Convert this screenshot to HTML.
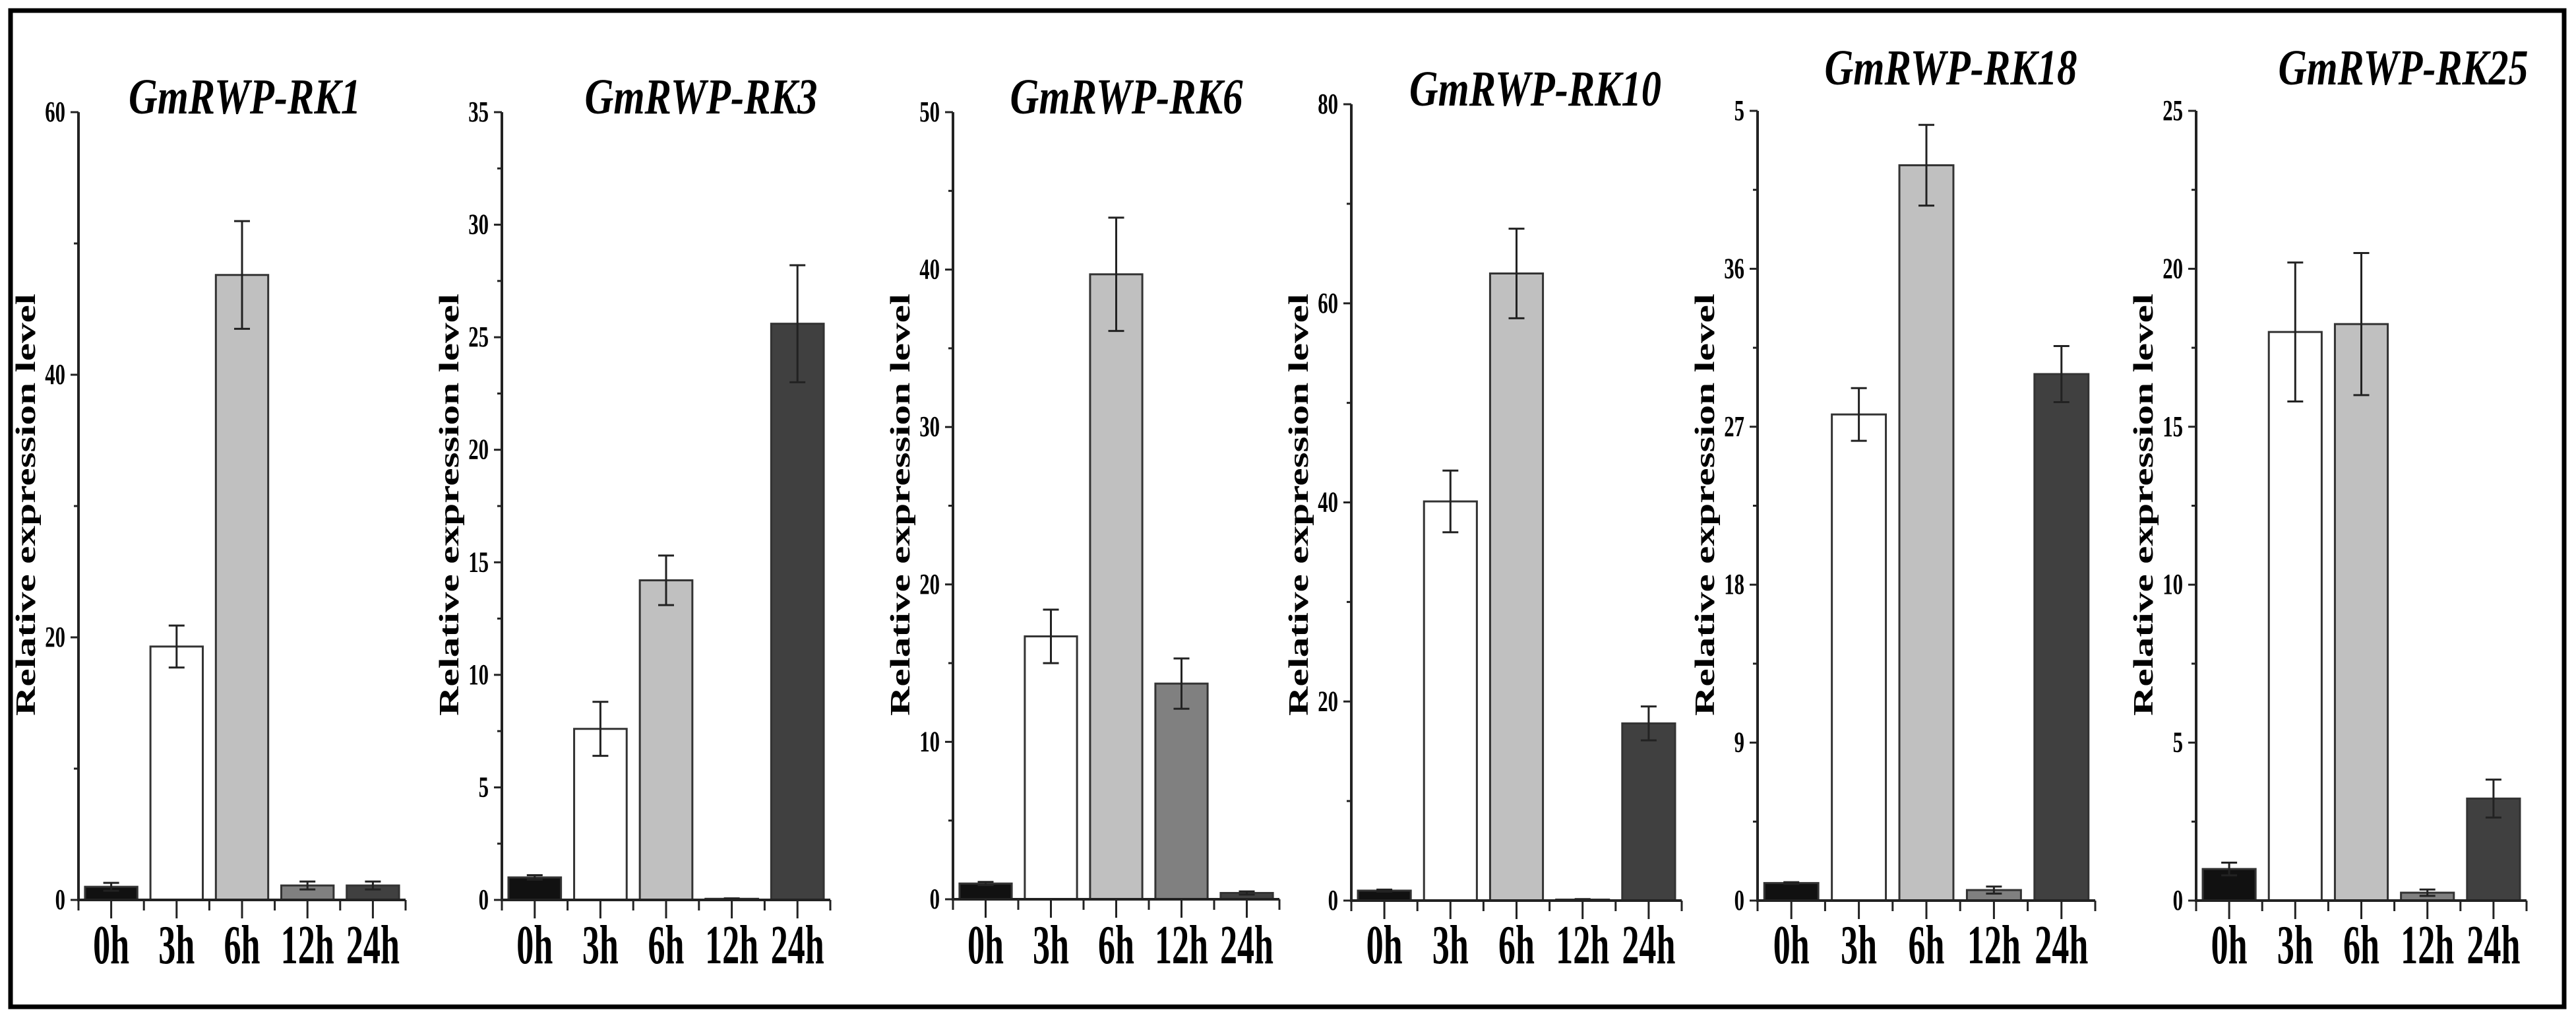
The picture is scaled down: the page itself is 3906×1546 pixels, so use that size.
<!DOCTYPE html>
<html><head><meta charset="utf-8"><style>
html,body{margin:0;padding:0;background:#fff;}
svg{display:block;}
text{font-family:"Liberation Serif",serif;fill:#000;}
</style></head><body>
<svg id="chart" width="3906" height="1546" viewBox="0 0 3906 1546" xmlns="http://www.w3.org/2000/svg">
<rect x="16" y="16" width="3872" height="1510" fill="#fff" stroke="#000" stroke-width="7"/>
</svg>
<script>
const categories = ["0h","3h","6h","12h","24h"];
const genes = ["GmRWP-RK1","GmRWP-RK3","GmRWP-RK6","GmRWP-RK10","GmRWP-RK18","GmRWP-RK25"];
const rk1Values = [1.0, 19.3, 47.6, 1.1, 1.1];
const rk1Errors = [0.3, 1.6, 4.1, 0.3, 0.3];
const rk3Values = [1.0, 7.6, 14.2, 0.05, 25.6];
const rk3Errors = [0.1, 1.2, 1.1, 0.02, 2.6];
const rk6Values = [1.0, 16.7, 39.7, 13.7, 0.4];
const rk6Errors = [0.1, 1.7, 3.6, 1.6, 0.1];
const rk10Values = [1.0, 40.1, 63.0, 0.1, 17.8];
const rk10Errors = [0.1, 3.1, 4.5, 0.05, 1.7];
const rk18Values = [1.0, 27.7, 41.9, 0.6, 30.0];
const rk18Errors = [0.05, 1.5, 2.3, 0.2, 1.6];
const rk25Values = [1.0, 18.0, 18.25, 0.25, 3.23];
const rk25Errors = [0.2, 2.2, 2.25, 0.1, 0.6];
const yMaxes = [60, 35, 50, 80, 45, 25];
const yTickStep = [20, 5, 10, 20, 9, 5];
const yTickLabels18 = ["0","9","18","27","36","5"];
const allValues = [rk1Values, rk3Values, rk6Values, rk10Values, rk18Values, rk25Values];
const allErrors = [rk1Errors, rk3Errors, rk6Errors, rk10Errors, rk18Errors, rk25Errors];

// layout (pixels)
const L = {
  axisX:[119,761,1445,2049,2665,3330],
  axisEnd:[615,1259,1940,2550,3177,3831],
  yTop:[170,170,170,158,168,168],
  yZero:[1364,1364,1363,1365,1365,1365],
  titleX:[371,1063,1708,2328,2958,3644],
  titleY:[172,172,172,160,128,128],
  titleW:[352,353,353,382,383,379]
};
const fills = ["#111111","#ffffff","#c0c0c0","#808080","#404040"];
const NS = "http://www.w3.org/2000/svg";
const svg = document.getElementById('chart');
function mk(tag, attrs, parent){
  const e = document.createElementNS(NS, tag);
  for (const k in attrs) e.setAttribute(k, attrs[k]);
  (parent||svg).appendChild(e);
  return e;
}
genes.forEach((gene, p) => {
  const g = mk('g', {});
  
  
  const x0 = L.axisX[p], x1 = L.axisEnd[p], yT = L.yTop[p], yZ = L.yZero[p], max = yMaxes[p];
  const yS = v => yZ - (v / max) * (yZ - yT);
  const band = (x1 - x0) / categories.length;
  const xC = i => x0 + band * (i + 0.5);
  const bw = band * 0.8;
  const t = mk('text', {x:L.titleX[p], y:L.titleY[p], 'text-anchor':'middle', 'font-size':76, 'font-weight':'bold', 'font-style':'italic', textLength:L.titleW[p], lengthAdjust:'spacingAndGlyphs'}, g);
  t.textContent = gene;
  
  
  const yt = mk('text', {x:0, y:0, transform:`translate(${x0-66},765) rotate(-90)`, 'text-anchor':'middle', 'font-size':42, 'font-weight':'bold', textLength:640, lengthAdjust:'spacingAndGlyphs'}, g);
  yt.textContent = "Relative expression level";
  
  
  allValues[p].forEach((v, i) => {
    const r = mk('rect', {x:xC(i)-bw/2, y:yS(v), width:bw, height:Math.max(yZ-yS(v),1), fill:fills[i], stroke:'#333', 'stroke-width':3}, g);
    
    
    const e = allErrors[p][i];
    const eg = mk('path', {d:`M${xC(i)},${yS(v+e)}V${yS(Math.max(v-e,0))}M${xC(i)-12},${yS(v+e)}h24M${xC(i)-12},${yS(Math.max(v-e,0))}h24`, stroke:'#222', 'stroke-width':3, fill:'none'}, g);
    
    
  });
  const ax = mk('path', {d:`M${x0},${yT}V${yZ}H${x1}`, stroke:'#222', 'stroke-width':4, fill:'none'}, g);
  
  
  const step = yTickStep[p];
  for (let k = 0; k * step <= max + 0.001; k++) {
    const v = k * step, y = yS(v);
    mk('line', {x1:x0-12, x2:x0, y1:y, y2:y, stroke:'#222', 'stroke-width':3}, g);
    if (v + step/2 < max) { const ym = yS(v + step/2); mk('line', {x1:x0-7, x2:x0, y1:ym, y2:ym, stroke:'#222', 'stroke-width':3}, g); }
    const lbl = p === 4 ? yTickLabels18[k] : String(v);
    const tl = mk('text', {x:0, y:0, transform:`translate(${x0-20},${y+14}) scale(0.7,1)`, 'text-anchor':'end', 'font-size':44, 'font-weight':'bold'}, g);
    tl.textContent = lbl;
    
    
  }
  for (let i = 0; i <= categories.length; i++) {
    const xb = x0 + band * i;
    mk('line', {x1:xb, x2:xb, y1:yZ, y2:yZ+16, stroke:'#222', 'stroke-width':3}, g);
  }
  categories.forEach((c, i) => {
    mk('line', {x1:xC(i), x2:xC(i), y1:yZ, y2:yZ+28, stroke:'#222', 'stroke-width':3}, g);
    const xl = mk('text', {x:0, y:0, transform:`translate(${xC(i)},1460) scale(0.62,1)`, 'text-anchor':'middle', 'font-size':84, 'font-weight':'bold'}, g);
    xl.textContent = c;
    
    
  });
});
</script>
</body></html>
